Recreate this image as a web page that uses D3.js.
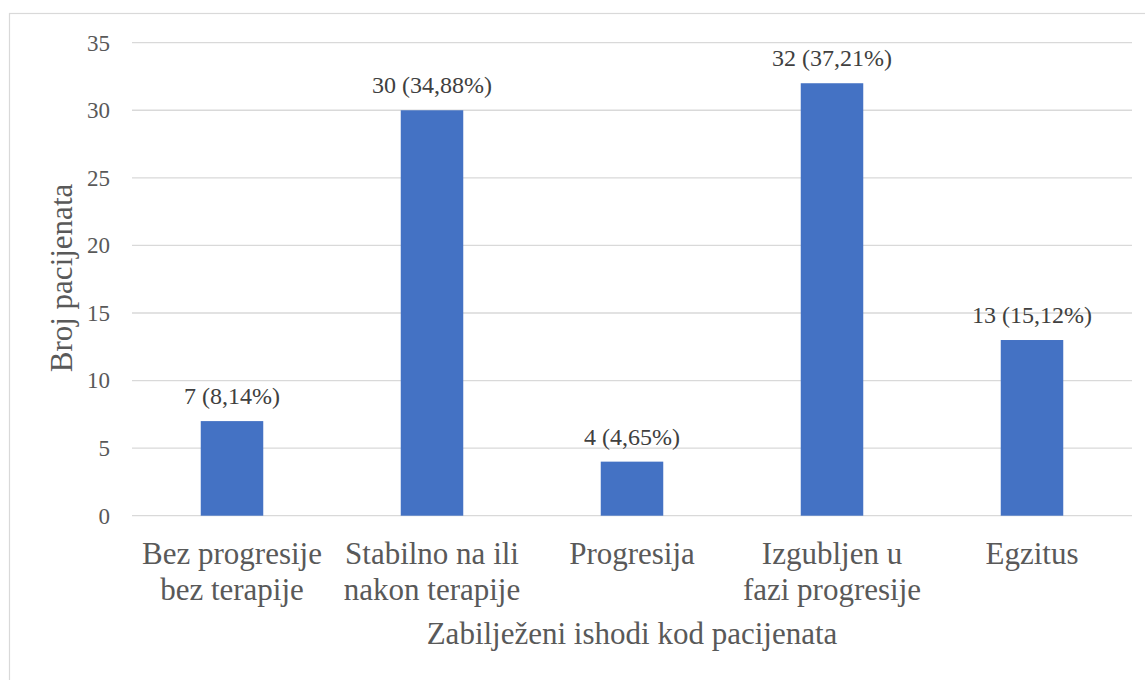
<!DOCTYPE html>
<html>
<head>
<meta charset="utf-8">
<script src="https://cdn.jsdelivr.net/npm/d3@7"></script>
<style>
  html, body { margin: 0; padding: 0; background: #fff; }
  svg text { font-family: "Liberation Serif", "Times New Roman", Tinos, "DejaVu Serif", serif !important; }
</style>
</head>
<body>
<svg id="chart" width="1145" height="680"></svg>
<script>
// category labels, already split into lines as in the reference
var categories = [
  ['Bez progresije', 'bez terapije'],
  ['Stabilno na ili', 'nakon terapije'],
  ['Progresija'],
  ['Izgubljen u', 'fazi progresije'],
  ['Egzitus']
];
var counts = [7, 30, 4, 32, 13];
var percents = ['8,14%', '34,88%', '4,65%', '37,21%', '15,12%'];
var yTicks = [0, 5, 10, 15, 20, 25, 30, 35];

var svg = d3.select('#chart');

// outer frame of the chart object
svg.append('rect')
  .attr('x', 9.5).attr('y', 13.5)
  .attr('width', 1145).attr('height', 680)
  .attr('fill', 'none')
  .attr('stroke', '#d9d9d9')
  .attr('stroke-width', 1.2);

var margin = { left: 132, right: 13, top: 42.7, bottom: 164.3 };
var width = 1145 - margin.left - margin.right;
var height = 680 - margin.top - margin.bottom;

var g = svg.append('g')
  .attr('transform', 'translate(' + margin.left + ',' + margin.top + ')');

var x = d3.scaleBand()
  .domain(d3.range(counts.length))
  .range([0, width])
  .paddingInner(0.6875)
  .paddingOuter(0.34375);

var y = d3.scaleLinear()
  .domain([0, 35])
  .range([height, 0]);

// gridlines
g.append('g')
  .selectAll('line')
  .data(yTicks)
  .enter().append('line')
  .attr('x1', 0).attr('x2', width)
  .attr('y1', function(d) { return y(d); })
  .attr('y2', function(d) { return y(d); })
  .attr('stroke', '#d9d9d9')
  .attr('stroke-width', 1.3);

// y axis labels
var yAxis = g.append('g')
  .call(d3.axisLeft(y).tickValues(yTicks).tickSize(0).tickPadding(22));
yAxis.select('.domain').remove();
yAxis.selectAll('text')
  .attr('font-size', 23)
  .attr('fill', '#595959');

// bars
g.append('g')
  .selectAll('rect')
  .data(counts)
  .enter().append('rect')
  .attr('x', function(d, i) { return x(i); })
  .attr('y', function(d) { return y(d); })
  .attr('width', x.bandwidth())
  .attr('height', function(d) { return height - y(d); })
  .attr('fill', '#4472c4');

// data labels
g.append('g')
  .selectAll('text')
  .data(counts)
  .enter().append('text')
  .attr('x', function(d, i) { return x(i) + x.bandwidth() / 2; })
  .attr('y', function(d) { return y(d) - 17; })
  .attr('text-anchor', 'middle')
  .attr('font-size', 24)
  .attr('fill', '#404040')
  .text(function(d, i) { return d + ' (' + percents[i] + ')'; });

// category labels
var catLabels = g.append('g')
  .selectAll('text')
  .data(categories)
  .enter().append('text')
  .attr('x', function(d, i) { return x(i) + x.bandwidth() / 2; })
  .attr('y', height + 48)
  .attr('text-anchor', 'middle')
  .attr('font-size', 31)
  .attr('fill', '#595959');

catLabels.selectAll('tspan')
  .data(function(d) { return d; })
  .enter().append('tspan')
  .attr('x', function() { return d3.select(this.parentNode).attr('x'); })
  .attr('dy', function(d, i) { return i === 0 ? 0 : 36; })
  .text(function(d) { return d; });

// axis titles
g.append('text')
  .attr('x', width / 2)
  .attr('y', height + 128)
  .attr('text-anchor', 'middle')
  .attr('font-size', 31)
  .attr('fill', '#595959')
  .text('Zabilježeni ishodi kod pacijenata');

g.append('text')
  .attr('transform', 'translate(' + (72 - margin.left) + ',' + (278 - margin.top) + ') rotate(-90)')
  .attr('text-anchor', 'middle')
  .attr('font-size', 31)
  .attr('fill', '#595959')
  .text('Broj pacijenata');
</script>
</body>
</html>
